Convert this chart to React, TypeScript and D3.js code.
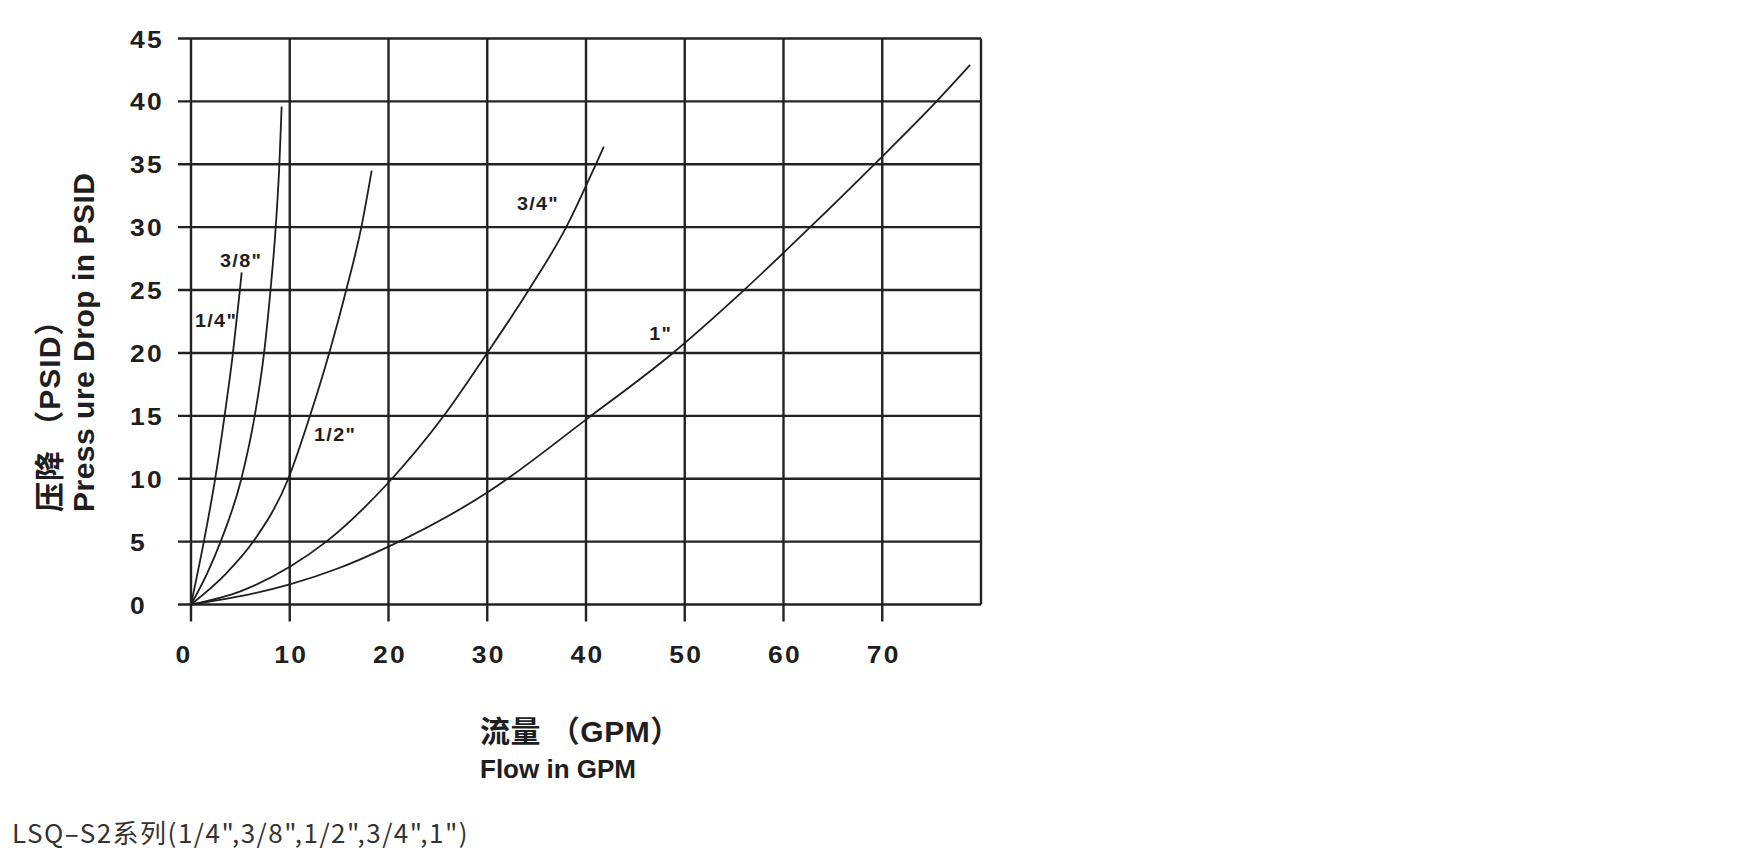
import React from 'react';
import * as d3 from 'd3';

const xTicks = [0, 10, 20, 30, 40, 50, 60, 70];
const yTicks = [0, 5, 10, 15, 20, 25, 30, 35, 40, 45];
const X_MAX = 80;
const Y_MAX = 45;

const seriesNames = ['1/4"', '3/8"', '1/2"', '3/4"', '1"'];

const flow14 = [0, 1.3, 2.45, 3.4, 4.25, 4.95, 5.13];
const drop14 = [0, 5, 10, 15, 20, 25, 26.4];

const flow38 = [0, 1.65, 3.0, 5.1, 6.45, 7.4, 8.05, 8.58, 8.95, 9.18];
const drop38 = [0, 2.5, 5, 10, 15, 20, 25, 30, 35, 39.6];

const flow12 = [0, 3.6, 6.3, 9.85, 12.05, 14.0, 15.72, 17.25, 18.3];
const drop12 = [0, 2.5, 5, 10, 15, 20, 25, 30, 34.5];

const flow34 = [0, 5, 10, 13.7, 20, 25.6, 30, 34.2, 38, 41, 41.8];
const drop34 = [0, 1.05, 3.0, 5, 9.7, 15, 20, 25, 30, 35, 36.4];

const flow1 = [0, 5, 10, 15, 20, 30, 40, 48.8, 56, 62.7, 69.2, 75.5, 78.9];
const drop1 = [0, 0.66, 1.6, 2.9, 4.6, 8.9, 14.7, 20, 25, 30, 35, 40, 42.9];

const seriesFlow = [flow14, flow38, flow12, flow34, flow1];
const seriesDrop = [drop14, drop38, drop12, drop34, drop1];

// label anchor points (data units)
const labelFlow = [0.4, 2.94, 12.46, 33.0, 46.4];
const labelDrop = [22.1, 26.8, 13.0, 31.4, 21.0];

const yTitleCn = '压降 （PSID）';
const yTitleEn = 'Press ure Drop in PSID';
const xTitleCn = '流量 （GPM）';
const xTitleEn = 'Flow in GPM';
const caption = 'LSQ\u2013S2系列(1/4",3/8",1/2",3/4",1")';

const W = 1740;
const H = 866;

export default function App() {
  const x = d3.scaleLinear().domain([0, X_MAX]).range([191, 981]);
  const y = d3.scaleLinear().domain([0, Y_MAX]).range([604.5, 38.5]);

  const line = d3
    .line<[number, number]>()
    .x((d) => x(d[0]))
    .y((d) => y(d[1]))
    .curve(d3.curveMonotoneX);

  const gridColor = '#222';
  const textColor = '#1e1e1e';
  const latin = '"Liberation Sans", Arial, Helvetica, sans-serif';
  const cjk = '"Liberation Sans", Arial, "Noto Sans CJK SC", sans-serif';

  return (
    <svg
      width={W}
      height={H}
      viewBox={`0 0 ${W} ${H}`}
      style={{ position: 'absolute', left: 0, top: 0, background: '#fff' }}
    >
      <rect x={0} y={0} width={W} height={H} fill="#fff" />
      {/* horizontal grid */}
      {yTicks.map((t) => (
        <line
          key={'h' + t}
          x1={x(0) - 13}
          x2={x(X_MAX)}
          y1={y(t)}
          y2={y(t)}
          stroke={gridColor}
          strokeWidth={2.4}
        />
      ))}
      {/* vertical grid */}
      {xTicks.map((t) => (
        <line
          key={'v' + t}
          x1={x(t)}
          x2={x(t)}
          y1={y(Y_MAX)}
          y2={y(0) + 17}
          stroke={gridColor}
          strokeWidth={2.4}
        />
      ))}
      <line
        x1={x(X_MAX)}
        x2={x(X_MAX)}
        y1={y(Y_MAX)}
        y2={y(0)}
        stroke={gridColor}
        strokeWidth={2.4}
      />
      {/* y tick labels */}
      {yTicks.map((t) => (
        <text
          key={'yl' + t}
          transform={`translate(130,${y(t) + 9}) scale(1.15,1)`}
          fontFamily={latin}
          fontWeight="bold"
          fontSize={23}
          letterSpacing={2}
          fill={textColor}
        >
          {t}
        </text>
      ))}
      {/* x tick labels */}
      {xTicks.map((t) => (
        <text
          key={'xl' + t}
          transform={`translate(${x(t) - 15.5},663) scale(1.15,1)`}
          fontFamily={latin}
          fontWeight="bold"
          fontSize={23}
          letterSpacing={2}
          fill={textColor}
        >
          {t}
        </text>
      ))}
      {/* curves */}
      {seriesFlow.map((fl, i) => {
        const pts = fl.map((v, j) => [v, seriesDrop[i][j]] as [number, number]);
        return (
          <path
            key={'c' + i}
            d={line(pts) || ''}
            fill="none"
            stroke="#1e1e1e"
            strokeWidth={1.8}
          />
        );
      })}
      {/* curve labels */}
      {seriesNames.map((n, i) => (
        <text
          key={'lb' + i}
          transform={`translate(${x(labelFlow[i])},${y(labelDrop[i])}) scale(1.1,1)`}
          fontFamily={latin}
          fontWeight="bold"
          fontSize={18}
          letterSpacing={1.2}
          fill={textColor}
        >
          {n}
        </text>
      ))}
      {/* y title */}
      <text
        transform={`translate(60,512) rotate(-90)`}
        fontFamily={cjk}
        fontWeight="bold"
        fontSize={30}
        letterSpacing={1}
        fill={textColor}
      >
        {yTitleCn}
      </text>
      <text
        transform={`translate(93.5,512) rotate(-90)`}
        fontFamily={latin}
        fontWeight="bold"
        fontSize={30}
        letterSpacing={0.5}
        fill={textColor}
      >
        {yTitleEn}
      </text>
      {/* x title */}
      <text
        x={480}
        y={742}
        fontFamily={cjk}
        fontWeight="bold"
        fontSize={30}
        letterSpacing={0.5}
        fill={textColor}
      >
        {xTitleCn}
      </text>
      <text
        x={480}
        y={778}
        fontFamily={latin}
        fontWeight="bold"
        fontSize={26}
        fill={textColor}
      >
        {xTitleEn}
      </text>
      {/* caption */}
      <text
        x={12}
        y={843}
        fontFamily={'"Noto Sans CJK SC", "Noto Sans", sans-serif'}
        fontSize={26}
        letterSpacing={1.5}
        fill="#333"
      >
        {caption}
      </text>
    </svg>
  );
}
